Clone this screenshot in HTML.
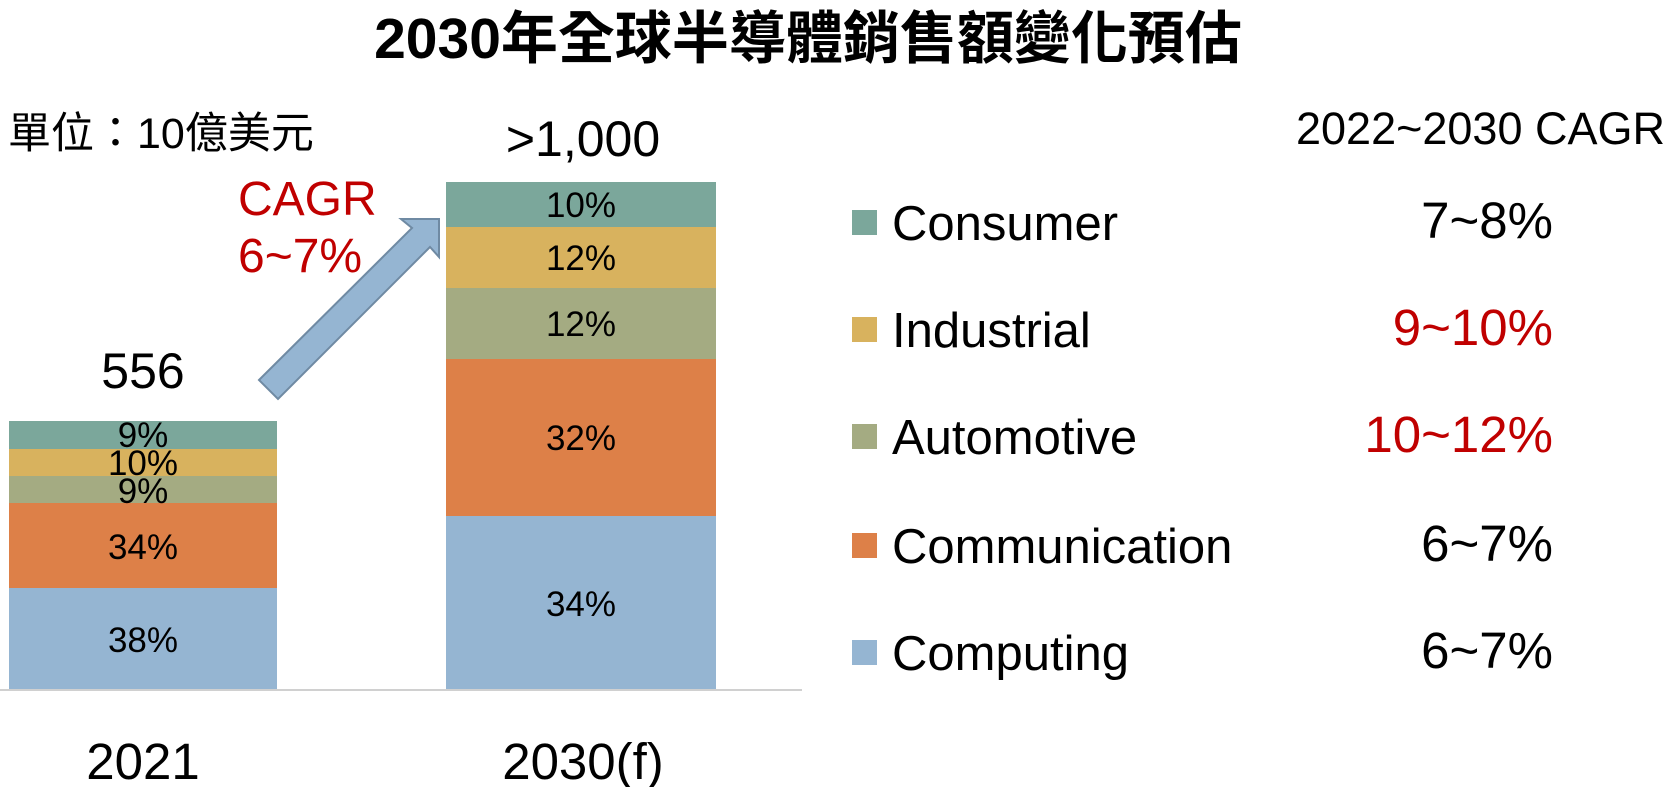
<!DOCTYPE html>
<html><head><meta charset="utf-8"><style>
html,body{margin:0;padding:0;background:#fff;}
svg{display:block;}
text{font-family:"Liberation Sans","Noto Sans CJK TC",sans-serif;fill:#000;}
</style></head><body>
<svg width="1669" height="787" viewBox="0 0 1669 787" xmlns="http://www.w3.org/2000/svg">
<text x="808" y="58" font-size="57" font-weight="bold" text-anchor="middle">2030年全球半導體銷售額變化預估</text>
<text x="8" y="148" font-size="43">單位：10億美元</text>

<!-- left bar -->
<rect x="9" y="421" width="268" height="28" fill="#7ba79b"/>
<rect x="9" y="449" width="268" height="27" fill="#d8b25e"/>
<rect x="9" y="476" width="268" height="27" fill="#a4ab82"/>
<rect x="9" y="503" width="268" height="85" fill="#dd8048"/>
<rect x="9" y="588" width="268" height="102" fill="#95b5d2"/>
<g font-size="35" text-anchor="middle">
<text x="143" y="447">9%</text>
<text x="143" y="475">10%</text>
<text x="143" y="503">9%</text>
<text x="143" y="559">34%</text>
<text x="143" y="652">38%</text>
</g>
<text x="143" y="388" font-size="50" text-anchor="middle">556</text>

<!-- right bar -->
<rect x="446" y="182" width="270" height="45" fill="#7ba79b"/>
<rect x="446" y="227" width="270" height="61" fill="#d8b25e"/>
<rect x="446" y="288" width="270" height="71" fill="#a4ab82"/>
<rect x="446" y="359" width="270" height="157" fill="#dd8048"/>
<rect x="446" y="516" width="270" height="174" fill="#95b5d2"/>
<g font-size="35" text-anchor="middle">
<text x="581" y="217">10%</text>
<text x="581" y="270">12%</text>
<text x="581" y="336">12%</text>
<text x="581" y="450">32%</text>
<text x="581" y="616">34%</text>
</g>
<text x="583" y="156" font-size="50" text-anchor="middle">&gt;1,000</text>

<line x1="0" y1="690" x2="802" y2="690" stroke="#d0d0d0" stroke-width="2"/>
<text x="143" y="779" font-size="51" text-anchor="middle">2021</text>
<text x="583" y="779" font-size="51" text-anchor="middle">2030(f)</text>

<!-- arrow -->
<polygon points="259,380 412,228 401,219 439,219 439,257 430,247 278,399" fill="#95b5d2" stroke="#6f8aa3" stroke-width="2"/>
<text x="238" y="215" font-size="48" style="fill:#c00000">CAGR</text>
<text x="238" y="272" font-size="48" style="fill:#c00000">6~7%</text>

<!-- legend -->
<text x="1665" y="144" font-size="45" text-anchor="end">2022~2030 CAGR</text>
<rect x="852" y="210" width="25" height="25" fill="#7ba79b"/>
<rect x="852" y="317" width="25" height="25" fill="#d8b25e"/>
<rect x="852" y="424" width="25" height="25" fill="#a4ab82"/>
<rect x="852" y="533" width="25" height="25" fill="#dd8048"/>
<rect x="852" y="640" width="25" height="25" fill="#95b5d2"/>
<g font-size="49">
<text x="892" y="240">Consumer</text>
<text x="892" y="347">Industrial</text>
<text x="892" y="454">Automotive</text>
<text x="892" y="563">Communication</text>
<text x="892" y="670">Computing</text>
</g>
<g font-size="51" text-anchor="end">
<text x="1553" y="238">7~8%</text>
<text x="1553" y="345" style="fill:#c00000">9~10%</text>
<text x="1553" y="452" style="fill:#c00000">10~12%</text>
<text x="1553" y="561">6~7%</text>
<text x="1553" y="668">6~7%</text>
</g>
</svg>
</body></html>
